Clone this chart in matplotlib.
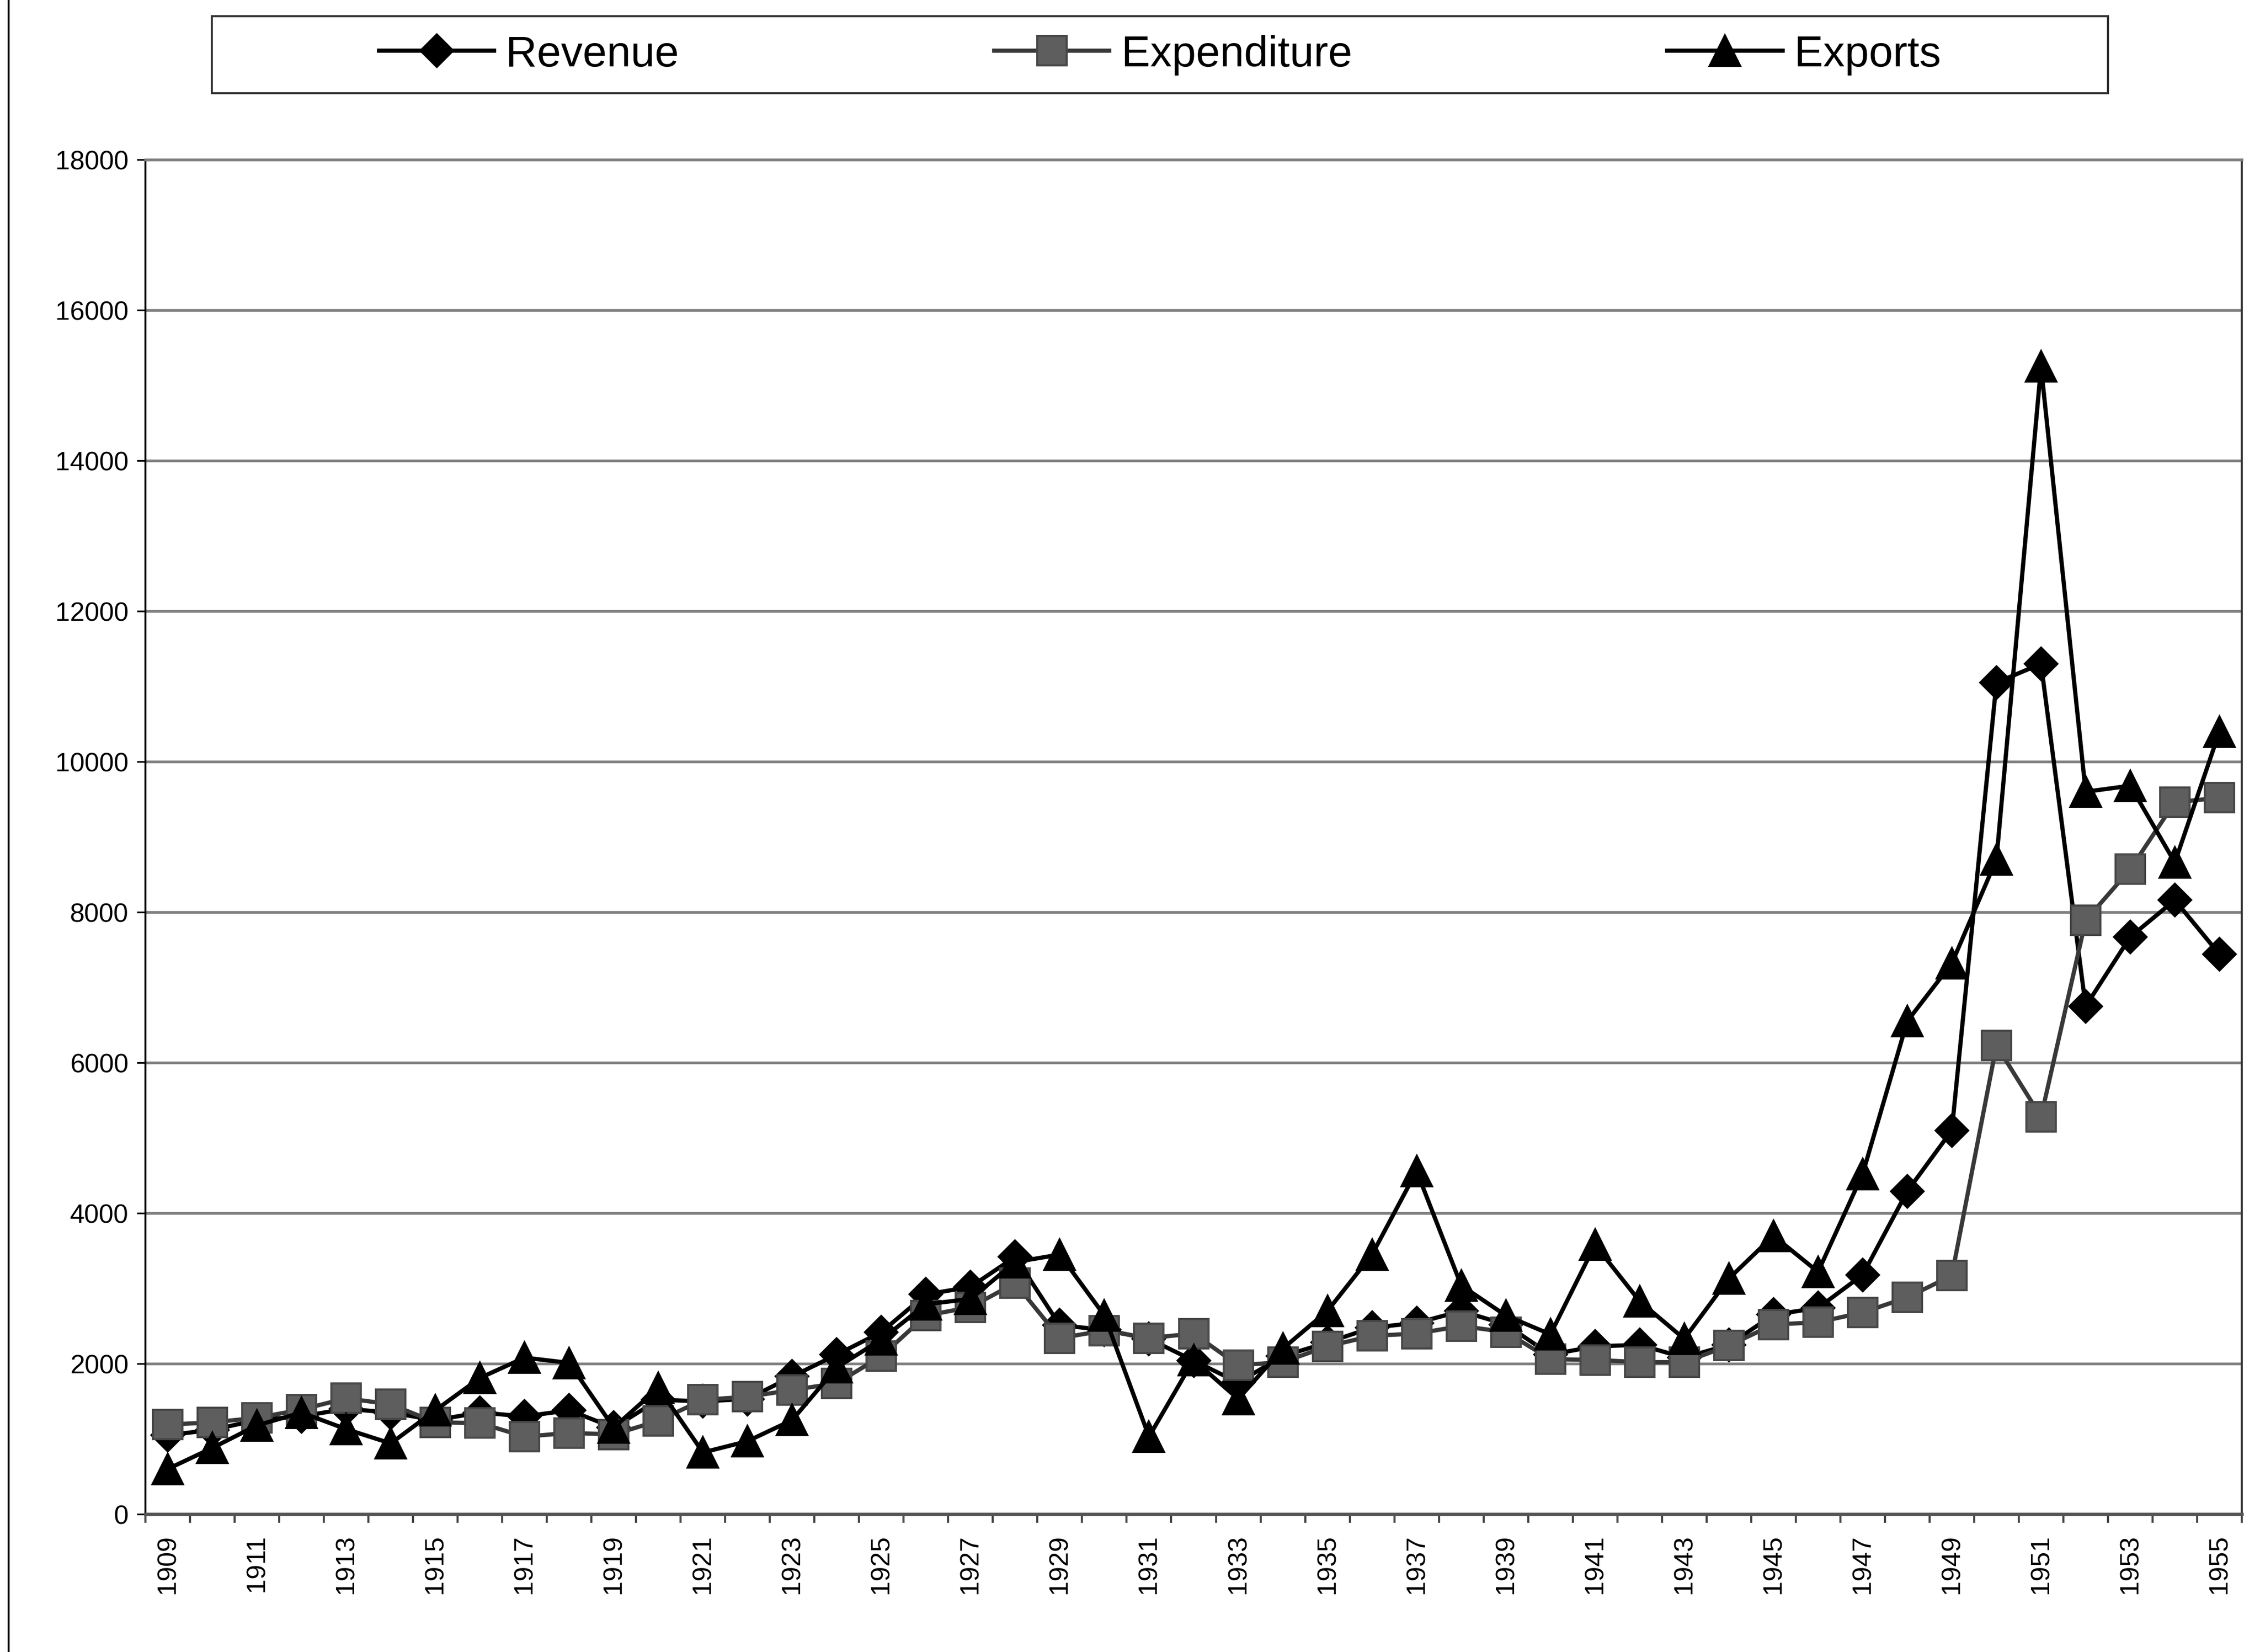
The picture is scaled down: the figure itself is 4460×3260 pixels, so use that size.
import matplotlib
matplotlib.use("Agg")
import matplotlib.pyplot as plt
from matplotlib.lines import Line2D
from matplotlib.patches import Rectangle
import numpy as np

plt.rcParams["font.family"] = ["Liberation Sans", "DejaVu Sans"]

# ---- data -------------------------------------------------------------
years = np.arange(1909, 1956)

revenue = [1050, 1120, 1250, 1300, 1400, 1350, 1250, 1350, 1300, 1380,
           1150, 1520, 1500, 1530, 1830, 2120, 2420, 2920, 3020, 3420,
           2510, 2450, 2330, 2040, 1750, 2100, 2280, 2480, 2540, 2700,
           2520, 2120, 2230, 2250, 2080, 2250, 2650, 2740, 3180, 4290,
           5100, 11050, 11300, 6750, 7670, 8160, 7440]

expenditure = [1190, 1220, 1280, 1390, 1540, 1460, 1220, 1210, 1030, 1080,
               1060, 1240, 1520, 1560, 1650, 1740, 2100, 2640, 2750, 3070,
               2340, 2440, 2340, 2400, 1980, 2020, 2230, 2370, 2400, 2500,
               2420, 2060, 2050, 2020, 2020, 2240, 2520, 2550, 2680, 2880,
               3170, 6230, 5280, 7890, 8570, 9460, 9520]

exports = [600, 880, 1180, 1350, 1130, 940, 1380, 1810, 2080, 2010,
           1150, 1680, 820, 970, 1250, 1950, 2320, 2790, 2860, 3350,
           3450, 2640, 1030, 2050, 1530, 2200, 2700, 3450, 4560, 3040,
           2640, 2390, 3580, 2830, 2330, 3130, 3700, 3220, 4520, 6550,
           7320, 8700, 15250, 9600, 9680, 8660, 10400]

y_ticks = [0, 2000, 4000, 6000, 8000, 10000, 12000, 14000, 16000, 18000]
x_label_years = years[::2]

# ---- figure -----------------------------------------------------------
W_PX, H_PX, DPI = 4460, 3261, 300
fig = plt.figure(figsize=(W_PX / DPI, H_PX / DPI), dpi=DPI, facecolor="white")

left, right, top, bottom = 287, 4424, 316, 2989
ax = fig.add_axes([left / W_PX, 1 - bottom / H_PX,
                   (right - left) / W_PX, (bottom - top) / H_PX])

ax.plot(years, revenue, color="black", lw=2.0, marker="D", ms=11,
        mfc="black", mec="black", label="Revenue", zorder=3)
ax.plot(years, expenditure, color="#383838", lw=2.0, marker="s", ms=14,
        mfc="#5e5e5e", mec="#474747", label="Expenditure", zorder=4)
ax.plot(years, exports, color="black", lw=2.0, marker="^", ms=14.5,
        mfc="black", mec="black", label="Exports", zorder=5)

ax.set_xlim(1908.5, 1955.5)
ax.set_ylim(0, 18000)

ax.set_yticks(y_ticks)
ax.set_yticklabels([str(v) for v in y_ticks])
ax.yaxis.grid(True, color="#808080", lw=1.3)
ax.set_axisbelow(True)

ax.set_xticks(x_label_years)
ax.set_xticklabels([str(y) for y in x_label_years], rotation=90)
ax.set_xticks(np.arange(1908.5, 1956, 1.0), minor=True)
ax.tick_params(axis="x", which="major", length=0, pad=9.5, labelsize=12.5)
ax.tick_params(axis="x", which="minor", length=4, width=1.0,
               color="#444444", direction="out")
ax.tick_params(axis="y", which="major", length=4, width=0.8, pad=4,
               labelsize=12.5, direction="out")

ax.spines["top"].set_color("#808080")
ax.spines["top"].set_linewidth(1.3)
ax.spines["bottom"].set_color("#555555")
ax.spines["bottom"].set_linewidth(1.6)
ax.spines["left"].set_color("black")
ax.spines["left"].set_linewidth(0.9)
ax.spines["right"].set_color("#333333")
ax.spines["right"].set_linewidth(1.0)

# ---- legend box across the top ---------------------------------------
box_x0, box_x1, box_y0, box_y1 = 418, 4160, 33, 185
fig.add_artist(Rectangle((box_x0 / W_PX, 1 - box_y1 / H_PX),
                         (box_x1 - box_x0) / W_PX, (box_y1 - box_y0) / H_PX,
                         transform=fig.transFigure, fill=False,
                         ec="#333333", lw=1.0))

handles, labels = ax.get_legend_handles_labels()
ent_x0, ent_x1, ent_yc = 748, 3830, 109
fig.legend(handles, labels, loc="center",
           bbox_to_anchor=(ent_x0 / W_PX, 1 - ent_yc / H_PX - 0.02,
                           (ent_x1 - ent_x0) / W_PX, 0.04),
           mode="expand", ncol=3, frameon=False, fontsize=20.5,
           handlelength=2.66, handletextpad=0.27, borderpad=0,
           borderaxespad=0)

# thin border along the left edge of the sheet
fig.add_artist(Line2D([0.0039, 0.0039], [0, 1], transform=fig.transFigure,
                      color="black", lw=0.9))

fig.savefig("out.png", dpi=DPI, facecolor="white")
